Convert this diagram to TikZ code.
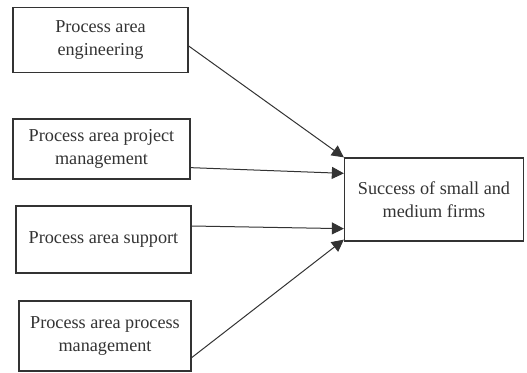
\documentclass[tikz,border=0pt]{standalone}
\usepackage{fontspec}
\setmainfont{Liberation Serif}
\usetikzlibrary{arrows.meta}
\definecolor{inkgray}{gray}{0.2}
\begin{document}
\begin{tikzpicture}[x=1pt,y=-1pt,->,>={Triangle[length=12pt,width=12pt]},
  inkgray,line width=1pt,
  area node/.style={rectangle,draw,line width=1.3pt,align=center,inner sep=0pt,
    font=\fontsize{18.2}{23.5}\selectfont,text=inkgray}]
  \useasboundingbox (0,0) rectangle (527,372);

  \node[area node,minimum width=175pt,minimum height=65pt] (eng) at (100.5,40) {Process area\\engineering};
  \node[area node,minimum width=177pt,minimum height=60pt] (pm) at (101.5,149) {Process area project\\management};
  \node[area node,minimum width=175pt,minimum height=67pt] (sup) at (103.5,239.5) {Process area support};
  \node[area node,minimum width=172pt,minimum height=70pt] (proc) at (105,336) {Process area process\\management};
  \node[area node,minimum width=179pt,minimum height=83pt] (succ) at (434,199.5) {Success of small and\\medium firms};

  \path
    ([yshift=-6pt]eng.east) edge (succ.north west)
    ([yshift=12pt]pm.south east) edge ([yshift=-16pt]succ.north west)
    ([yshift=13.5pt]sup.east) edge ([yshift=13pt]succ.south west)
    ([yshift=14pt]proc.south east) edge ([yshift=2pt]succ.south west);
\end{tikzpicture}
\end{document}
